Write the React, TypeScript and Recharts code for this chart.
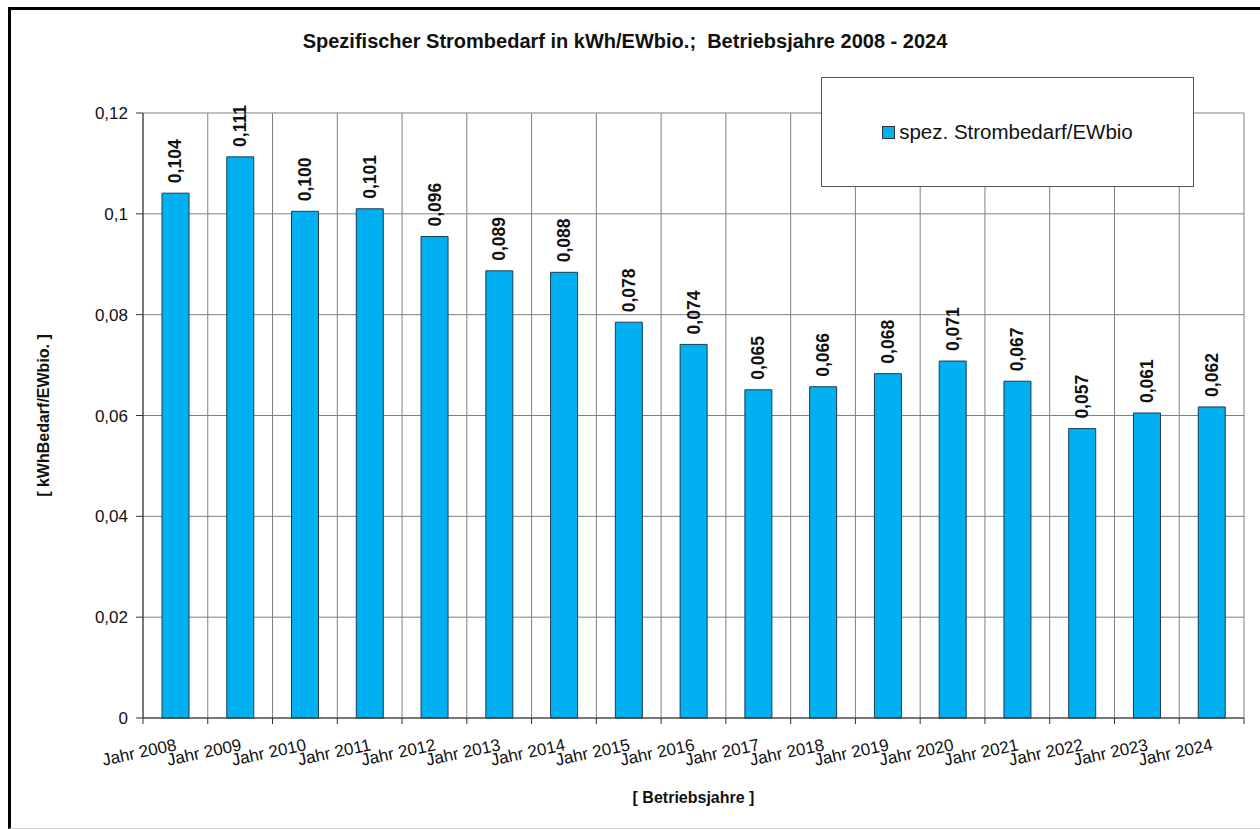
import { BarChart, Bar, XAxis, YAxis, CartesianGrid, Legend, LabelList } from 'recharts';

// Betriebsjahre
const jahre = [
  'Jahr 2008', 'Jahr 2009', 'Jahr 2010', 'Jahr 2011', 'Jahr 2012', 'Jahr 2013',
  'Jahr 2014', 'Jahr 2015', 'Jahr 2016', 'Jahr 2017', 'Jahr 2018', 'Jahr 2019',
  'Jahr 2020', 'Jahr 2021', 'Jahr 2022', 'Jahr 2023', 'Jahr 2024',
];

const strombedarf = [
  0.1041, 0.1113, 0.1005, 0.101, 0.0955, 0.0887, 0.0884, 0.0785, 0.0741,
  0.0651, 0.0657, 0.0683, 0.0708, 0.0668, 0.0574, 0.0605, 0.0617,
];

// Beschriftung über den Balken
const werteText = [
  '0,104', '0,111', '0,100', '0,101', '0,096', '0,089', '0,088', '0,078', '0,074',
  '0,065', '0,066', '0,068', '0,071', '0,067', '0,057', '0,061', '0,062',
];

const yTicks = [0, 0.02, 0.04, 0.06, 0.08, 0.1, 0.12];

const FONT = 'Arial, "Liberation Sans", sans-serif';
const BLAU = '#00B0F0';

const chartData = jahre.map((jahr, i) => ({
  jahr,
  wert: strombedarf[i],
}));

function JahrTick(props: any) {
  const { x, y, payload, width, visibleTicksCount, index } = props;
  const step = width / (visibleTicksCount || jahre.length);
  const tx = x + 2;
  const ty = y + 32;
  return (
    <g>
      <line x1={x - step / 2} x2={x - step / 2} y1={y} y2={y + 6} stroke="#333" />
      {index === jahre.length - 1 && (
        <line x1={x + step / 2} x2={x + step / 2} y1={y} y2={y + 6} stroke="#333" />
      )}
      <text
        x={tx}
        y={ty}
        textAnchor="end"
        fontSize={17}
        fontFamily={FONT}
        fill="#111"
        transform={`rotate(-12, ${tx}, ${ty})`}
      >
        {payload.value}
      </text>
    </g>
  );
}

function WertLabel(props: any) {
  const { x, y, width, index } = props;
  const cx = x + width / 2;
  const cy = y - 10;
  return (
    <text
      x={cx}
      y={cy}
      textAnchor="start"
      dominantBaseline="central"
      fontSize={17.5}
      fontWeight="bold"
      fontFamily={FONT}
      fill="#111"
      transform={`rotate(-90, ${cx}, ${cy})`}
    >
      {werteText[index]}
    </text>
  );
}

function LegendBox(props: any) {
  const { payload } = props;
  return (
    <div
      style={{
        width: 373,
        height: 110,
        boxSizing: 'border-box',
        border: '1px solid #555',
        background: '#fff',
        display: 'flex',
        alignItems: 'center',
        justifyContent: 'center',
        fontFamily: FONT,
      }}
    >
      {(payload || []).map((p: any) => (
        <div key={p.value} style={{ display: 'flex', alignItems: 'center' }}>
          <span
            style={{
              width: 11,
              height: 11,
              background: BLAU,
              border: '1px solid #333',
              marginRight: 4,
              display: 'inline-block',
            }}
          />
          <span style={{ fontSize: 20.5, color: '#111' }}>{p.value}</span>
        </div>
      ))}
    </div>
  );
}

export default function App() {
  return (
    <div
      style={{
        position: 'fixed',
        left: 0,
        top: 0,
        width: 1260,
        height: 829,
        overflow: 'hidden',
        background: '#fff',
      }}
    >
      <div
        style={{
          position: 'absolute',
          left: 8,
          top: 7,
          width: 1300,
          height: 822,
          boxSizing: 'border-box',
          borderLeft: '3px solid #000',
          borderTop: '3px solid #000',
          borderBottom: '1px solid #ccc',
        }}
      />
      <div
        style={{
          position: 'absolute',
          left: 0,
          top: 30,
          width: 1250,
          lineHeight: '22px',
          textAlign: 'center',
          fontFamily: FONT,
          fontWeight: 'bold',
          fontSize: 20,
          color: '#111',
          whiteSpace: 'pre',
        }}
      >
        {'Spezifischer Strombedarf in kWh/EWbio.;  Betriebsjahre 2008 - 2024'}
      </div>
      <BarChart
        width={1260}
        height={829}
        data={chartData}
        margin={{ top: 113, right: 16, bottom: 51, left: 83 }}
        barCategoryGap={0}
      >
        <CartesianGrid
          stroke="#808080"
          verticalCoordinatesGenerator={({ offset }: any) =>
            Array.from({ length: jahre.length + 1 }, (_, i) => offset.left + (i * offset.width) / jahre.length)
          }
        />
        <XAxis
          dataKey="jahr"
          height={60}
          interval={0}
          tickLine={false}
          tickSize={0}
          tickMargin={0}
          axisLine={{ stroke: '#333' }}
          tick={<JahrTick />}
          label={{
            content: (p: any) => {
              const vb = p.viewBox || {};
              return (
                <text
                  x={vb.x + vb.width / 2}
                  y={vb.y + 79}
                  textAnchor="middle"
                  dominantBaseline="central"
                  fontSize={16}
                  fontWeight="bold"
                  fontFamily={FONT}
                  fill="#111"
                >
                  [ Betriebsjahre ]
                </text>
              );
            },
          }}
        />
        <YAxis
          width={60}
          domain={[0, 0.12]}
          ticks={yTicks}
          interval={0}
          tickSize={7}
          tickMargin={8}
          axisLine={{ stroke: '#333' }}
          tickLine={{ stroke: '#333' }}
          tick={{ fontSize: 17, fontFamily: FONT, fill: '#111' }}
          tickFormatter={(v: number) => (v === 0 ? '0' : String(v).replace('.', ','))}
          label={{
            content: (p: any) => {
              const vb = p.viewBox || {};
              const lx = vb.x - 40;
              const ly = vb.y + vb.height / 2;
              return (
                <text
                  x={lx}
                  y={ly}
                  textAnchor="middle"
                  dominantBaseline="central"
                  fontSize={16}
                  fontWeight="bold"
                  fontFamily={FONT}
                  fill="#111"
                  transform={`rotate(-90, ${lx}, ${ly})`}
                >
                  [ kWhBedarf/EWbio. ]
                </text>
              );
            },
          }}
        />
        <Legend
          layout="horizontal"
          verticalAlign="middle"
          align="center"
          content={<LegendBox />}
          wrapperStyle={{ left: 821, top: 77, width: 373, height: 110 }}
        />
        <Bar
          dataKey="wert"
          name="spez. Strombedarf/EWbio"
          fill={BLAU}
          stroke="#1f3b4d"
          strokeWidth={1}
          barSize={27}
          isAnimationActive={false}
        >
          <LabelList dataKey="wert" content={<WertLabel />} />
        </Bar>
      </BarChart>
    </div>
  );
}
